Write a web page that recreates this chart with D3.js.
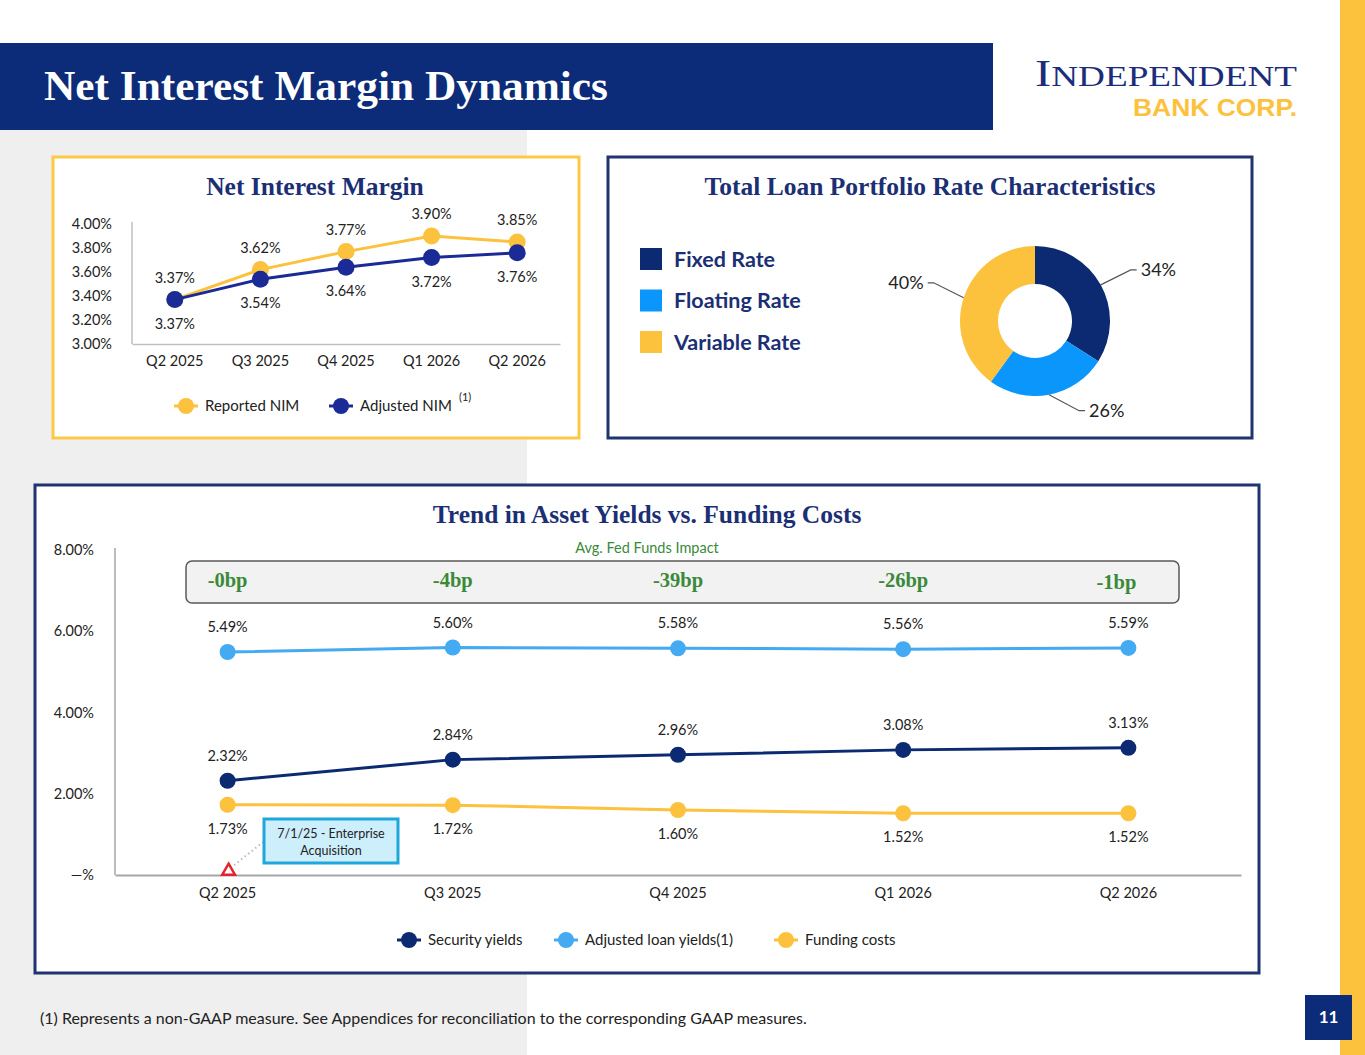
<!DOCTYPE html>
<html>
<head>
<meta charset="utf-8">
<script src="https://cdn.jsdelivr.net/npm/d3@7"></script>
<style>
  body { margin: 0; background: #ffffff; }
  svg { display: block; }
</style>
</head>
<body>
<div id="page"></div>
<script>
// ---- data ----
var quarters = ["Q2 2025", "Q3 2025", "Q4 2025", "Q1 2026", "Q2 2026"];

var reportedNim = [3.37, 3.62, 3.77, 3.90, 3.85];
var adjustedNim = [3.37, 3.54, 3.64, 3.72, 3.76];
var nimTicks = [3.0, 3.2, 3.4, 3.6, 3.8, 4.0];

var loanTypes = ["Fixed Rate", "Floating Rate", "Variable Rate"];
var loanShares = [34, 26, 40];

var securityYields = [2.32, 2.84, 2.96, 3.08, 3.13];
var loanYields = [5.49, 5.60, 5.58, 5.56, 5.59];
var fundingCosts = [1.73, 1.72, 1.60, 1.52, 1.52];
var trendTicks = [0, 2, 4, 6, 8];
var fedImpact = ["-0bp", "-4bp", "-39bp", "-26bp", "-1bp"];

// ---- colours / fonts ----
var navy = "#0c2a72";
var titleNavy = "#1b2f75";
var yellow = "#fcc13d";
var royal = "#1a2a96";
var lightBlue = "#44aaf2";
var brightBlue = "#0a96fb";
var green = "#3a8a3a";
var sans = "Lato, 'Open Sans', sans-serif";
var serif = "'Liberation Serif', 'DejaVu Serif', serif";

var svg = d3.select("#page").append("svg")
    .attr("width", 1365)
    .attr("height", 1055);

// background pieces
svg.append("rect").attr("x", 0).attr("y", 130).attr("width", 527).attr("height", 925).attr("fill", "#efefef");
svg.append("rect").attr("x", 1340).attr("y", 0).attr("width", 25).attr("height", 1055).attr("fill", yellow);
svg.append("rect").attr("x", 0).attr("y", 43).attr("width", 993).attr("height", 87).attr("fill", "#0c2b78");

svg.append("text")
    .attr("x", 44).attr("y", 100)
    .attr("font-family", serif).attr("font-weight", "bold")
    .attr("font-size", 42).attr("fill", "#fff")
    .attr("textLength", 564).attr("lengthAdjust", "spacingAndGlyphs")
    .text("Net Interest Margin Dynamics");

// logo
var logo = svg.append("text")
    .attr("x", 1035).attr("y", 86)
    .attr("font-family", serif).attr("fill", "#1b2d7a")
    .attr("textLength", 262).attr("lengthAdjust", "spacingAndGlyphs");
logo.append("tspan").attr("font-size", 38).text("I");
logo.append("tspan").attr("font-size", 29).text("NDEPENDENT");
svg.append("text")
    .attr("x", 1297).attr("y", 116).attr("text-anchor", "end")
    .attr("font-family", "'Liberation Sans', sans-serif").attr("font-weight", "bold")
    .attr("font-size", 24).attr("fill", yellow)
    .attr("textLength", 164).attr("lengthAdjust", "spacingAndGlyphs")
    .text("BANK CORP.");

// page number + footnote
svg.append("rect").attr("x", 1305).attr("y", 995).attr("width", 47).attr("height", 45).attr("fill", "#0c2b78");
svg.append("text").attr("x", 1328.5).attr("y", 1023).attr("text-anchor", "middle")
    .attr("font-family", sans).attr("font-weight", "bold").attr("font-size", 17)
    .attr("fill", "#fff").text("11");
svg.append("text").attr("x", 40).attr("y", 1024)
    .attr("font-family", sans).attr("font-size", 16).attr("fill", "#222")
    .text("(1) Represents a non-GAAP measure. See Appendices for reconciliation to the corresponding GAAP measures.");

function panel(x, y, w, h, stroke, title, tx, ty) {
  svg.append("rect").attr("x", x).attr("y", y).attr("width", w).attr("height", h)
      .attr("fill", "#fff").attr("stroke", stroke).attr("stroke-width", 3);
  svg.append("text").attr("x", tx).attr("y", ty).attr("text-anchor", "middle")
      .attr("font-family", serif).attr("font-weight", "bold").attr("font-size", 25.5)
      .attr("fill", titleNavy).text(title);
}

function legendItem(g, x, y, color, label) {
  g.append("line").attr("x1", x).attr("x2", x + 24).attr("y1", y).attr("y2", y)
      .attr("stroke", color).attr("stroke-width", 3);
  g.append("circle").attr("cx", x + 12).attr("cy", y).attr("r", 8).attr("fill", color);
  return g.append("text").attr("x", x + 31).attr("y", y + 5)
      .attr("font-family", sans).attr("font-size", 15).attr("fill", "#222").text(label);
}

// #####################################################
// Net Interest Margin
//
panel(53, 157, 526, 281, "#fcc945", "Net Interest Margin", 315, 195);

var nx = d3.scaleBand().domain(quarters).range([132, 560]);
var ny = d3.scaleLinear().domain([3.0, 4.0]).range([344, 224]);
var nimG = svg.append("g");

nimG.append("g").attr("transform", "translate(132,0)")
    .call(d3.axisLeft(ny).tickValues(nimTicks).tickSize(0).tickPadding(20)
      .tickFormat(function (d) { return d.toFixed(2) + "%"; }))
    .call(function (g) { g.select(".domain").remove(); })
    .selectAll("text").attr("font-family", sans).attr("font-size", 14.5).attr("fill", "#222");
nimG.append("line").attr("x1", 132).attr("x2", 132).attr("y1", 222).attr("y2", 344)
    .attr("stroke", "#bfbfbf").attr("stroke-width", 1.5);
nimG.append("g").attr("transform", "translate(0,344)")
    .call(d3.axisBottom(nx).tickSize(0).tickPadding(12))
    .call(function (g) { g.select(".domain").attr("stroke", "#bfbfbf").attr("stroke-width", 1.5); })
    .selectAll("text").attr("font-family", sans).attr("font-size", 14.5).attr("fill", "#222");

function cx(scale, d) { return scale(d) + scale.bandwidth() / 2; }

function drawSeries(g, xs, ys, values, color, r, labelDy) {
  var line = d3.line()
      .x(function (d, i) { return cx(xs, quarters[i]); })
      .y(function (d) { return ys(d); });
  g.append("path").datum(values).attr("d", line)
      .attr("fill", "none").attr("stroke", color).attr("stroke-width", 3);
  g.selectAll(null).data(values).enter().append("circle")
      .attr("cx", function (d, i) { return cx(xs, quarters[i]); })
      .attr("cy", function (d) { return ys(d); })
      .attr("r", r).attr("fill", color);
  g.selectAll(null).data(values).enter().append("text")
      .attr("x", function (d, i) { return cx(xs, quarters[i]); })
      .attr("y", function (d) { return ys(d) + labelDy; })
      .attr("text-anchor", "middle")
      .attr("font-family", sans).attr("font-size", 14.5).attr("fill", "#222")
      .text(function (d) { return d.toFixed(2) + "%"; });
}

drawSeries(nimG, nx, ny, reportedNim, yellow, 8.5, -17);
drawSeries(nimG, nx, ny, adjustedNim, royal, 8.5, 29);

var nl = svg.append("g");
legendItem(nl, 174, 406, yellow, "Reported NIM");
legendItem(nl, 329, 406, royal, "Adjusted NIM");
nl.append("text").attr("x", 459).attr("y", 401).attr("font-family", sans)
    .attr("font-size", 11).attr("fill", "#222").text("(1)");

// #####################################################
// Loan portfolio donut
//
panel(608, 157, 644, 281, "#1f3470", "Total Loan Portfolio Rate Characteristics", 930, 195);

var loanColors = d3.scaleOrdinal().domain(loanTypes).range([navy, brightBlue, yellow]);

var lg = svg.append("g");
loanTypes.forEach(function (t, i) {
  lg.append("rect").attr("x", 640).attr("y", 248 + i * 41.5).attr("width", 22).attr("height", 22)
      .attr("fill", loanColors(t));
  lg.append("text").attr("x", 674).attr("y", 266.5 + i * 41.5)
      .attr("font-family", sans).attr("font-weight", "bold").attr("font-size", 21.5)
      .attr("fill", titleNavy).text(t);
});

var pie = d3.pie().sort(null).value(function (d) { return d; });
var rOut = 75, rIn = 37;
var arc = d3.arc().innerRadius(rIn).outerRadius(rOut);
var donut = svg.append("g").attr("transform", "translate(1035,321)");
var slices = pie(loanShares);
donut.selectAll("path").data(slices).enter().append("path")
    .attr("d", arc)
    .attr("fill", function (d, i) { return loanColors(loanTypes[i]); });

slices.forEach(function (d) {
  var a = (d.startAngle + d.endAngle) / 2;
  var side = Math.sin(a) >= 0 ? 1 : -1;
  var p1 = [Math.sin(a) * rOut, -Math.cos(a) * rOut];
  // elbow pushed outward and sideways, like the office-chart leader lines
  var p2 = [p1[0] + side * 30, p1[1] + (-Math.cos(a) >= 0 ? 16 : -15)];
  var p3 = [p2[0] + side * 6, p2[1]];
  donut.append("polyline")
      .attr("points", [p1, p2, p3].map(function (p) { return p.join(","); }).join(" "))
      .attr("fill", "none").attr("stroke", "#555").attr("stroke-width", 1.2);
  donut.append("text")
      .attr("x", p3[0] + side * 4).attr("y", p3[1] + 6)
      .attr("text-anchor", side > 0 ? "start" : "end")
      .attr("font-family", sans).attr("font-size", 18).attr("fill", "#222")
      .text(d.data + "%");
});

// #####################################################
// Trend in asset yields vs funding costs
//
panel(35, 485, 1224, 488, "#1f3470", "Trend in Asset Yields vs. Funding Costs", 647, 523);

var tx = d3.scaleBand().domain(quarters).range([115, 1241]);
var ty = d3.scaleLinear().domain([0, 8]).range([875, 550]);
var tg = svg.append("g");

tg.append("text").attr("x", 647).attr("y", 553).attr("text-anchor", "middle")
    .attr("font-family", sans).attr("font-size", 14.5).attr("fill", green)
    .text("Avg. Fed Funds Impact");
tg.append("rect").attr("x", 186).attr("y", 561).attr("width", 993).attr("height", 42).attr("rx", 6)
    .attr("fill", "#f2f2f2").attr("stroke", "#595959").attr("stroke-width", 1.5);
tg.selectAll(null).data(fedImpact).enter().append("text")
    .attr("x", function (d, i) { return cx(tx, quarters[i]) + (i === 4 ? -12 : 0); })
    .attr("y", function (d, i) { return i === 4 ? 589 : 587; })
    .attr("text-anchor", "middle")
    .attr("font-family", serif).attr("font-weight", "bold").attr("font-size", 20.5)
    .attr("fill", green).text(function (d) { return d; });

tg.append("g").attr("transform", "translate(115,0)")
    .call(d3.axisLeft(ty).tickValues(trendTicks).tickSize(0).tickPadding(21)
      .tickFormat(function (d) { return d === 0 ? "\u2014%" : d.toFixed(2) + "%"; }))
    .call(function (g) { g.select(".domain").remove(); })
    .selectAll("text").attr("font-family", sans).attr("font-size", 14.5).attr("fill", "#222");
tg.append("line").attr("x1", 115).attr("x2", 115).attr("y1", 548).attr("y2", 875)
    .attr("stroke", "#a6a6a6").attr("stroke-width", 1.5);
tg.append("g").attr("transform", "translate(0,875)")
    .call(d3.axisBottom(tx).tickSize(0).tickPadding(13))
    .call(function (g) { g.select(".domain").attr("stroke", "#a6a6a6").attr("stroke-width", 2); })
    .selectAll("text").attr("font-family", sans).attr("font-size", 14.5).attr("fill", "#222");

drawSeries(tg, tx, ty, loanYields, lightBlue, 8, -20);
drawSeries(tg, tx, ty, securityYields, navy, 8, -20);
drawSeries(tg, tx, ty, fundingCosts, yellow, 8, 29);

// acquisition marker
var mx = cx(tx, quarters[0]);
tg.append("line").attr("x1", mx + 3).attr("y1", 868).attr("x2", 263).attr("y2", 842)
    .attr("stroke", "#bbb").attr("stroke-width", 2).attr("stroke-dasharray", "1.5,3");
tg.append("path").attr("d", d3.symbol().type(d3.symbolTriangle).size(70))
    .attr("transform", "translate(" + (mx + 1) + ",871)")
    .attr("fill", "#fff").attr("stroke", "#e3242b").attr("stroke-width", 2.5);
tg.append("rect").attr("x", 264).attr("y", 819).attr("width", 134).attr("height", 44)
    .attr("fill", "#cdeefb").attr("stroke", "#1fa7dc").attr("stroke-width", 3);
tg.append("text").attr("x", 331).attr("y", 838).attr("text-anchor", "middle")
    .attr("font-family", sans).attr("font-size", 12.5).attr("fill", "#222").text("7/1/25 - Enterprise");
tg.append("text").attr("x", 331).attr("y", 855).attr("text-anchor", "middle")
    .attr("font-family", sans).attr("font-size", 12.5).attr("fill", "#222").text("Acquisition");

var tl = svg.append("g");
legendItem(tl, 397, 940, navy, "Security yields");
legendItem(tl, 554, 940, lightBlue, "Adjusted loan yields(1)");
legendItem(tl, 774, 940, yellow, "Funding costs");
</script>
</body>
</html>
